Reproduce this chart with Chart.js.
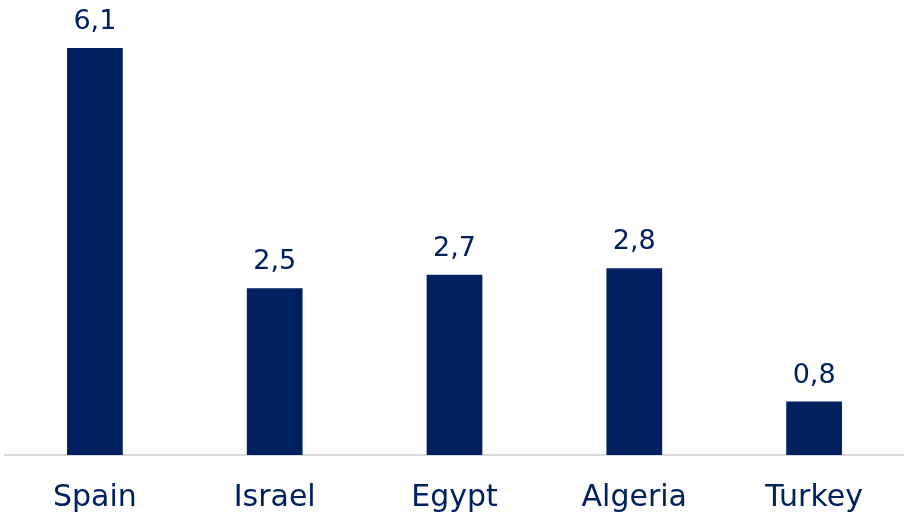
<!DOCTYPE html>
<html>
<head>
<meta charset="utf-8">
<script src="https://cdn.jsdelivr.net/npm/chart.js@4/dist/chart.umd.min.js"></script>
<style>
  html, body { margin: 0; padding: 0; background: #fff; }
  #wrap { width: 904px; height: 516px; position: relative; }
</style>
</head>
<body>
<div id="wrap"><canvas id="barChart"></canvas></div>
<script>
"use strict";
var countries = ["Spain", "Israel", "Egypt", "Algeria", "Turkey"];
var values = [6.1, 2.5, 2.7, 2.8, 0.8];

var navy = "#002060";
var fontFamily = "'DejaVu Sans', sans-serif";

/* value labels above each bar, decimal comma */
var valueLabels = {
  id: "valueLabels",
  afterDatasetsDraw: function(chart) {
    var ctx = chart.ctx;
    var meta = chart.getDatasetMeta(0);
    ctx.save();
    ctx.fillStyle = navy;
    ctx.font = "27px " + fontFamily;
    ctx.textAlign = "center";
    ctx.textBaseline = "alphabetic";
    meta.data.forEach(function(bar, i) {
      var txt = values[i].toFixed(1).replace(".", ",");
      ctx.fillText(txt, bar.x, bar.y - 19);
    });
    ctx.restore();
  }
};

var bar = document.getElementById("barChart").getContext("2d");
new Chart(bar, {
  type: "bar",
  data: {
    labels: countries,
    datasets: [{
      data: values,
      backgroundColor: navy,
      borderWidth: 0,
      barPercentage: 0.31,
      categoryPercentage: 1
    }]
  },
  options: {
    responsive: true,
    maintainAspectRatio: false,
    animation: false,
    layout: { padding: { top: 48, left: 5, right: 0, bottom: 0 } },
    plugins: {
      legend: { display: false },
      tooltip: { enabled: false }
    },
    scales: {
      x: {
        grid: { display: false, drawTicks: false },
        border: { color: "#d9d9d9", width: 2 },
        ticks: {
          color: navy,
          padding: 25,
          font: { family: fontFamily, size: 30 }
        },
        afterFit: function(scale) { scale.height = 61; }
      },
      y: {
        display: false,
        min: 0,
        max: 6.1
      }
    }
  },
  plugins: [valueLabels]
});
</script>
</body>
</html>
